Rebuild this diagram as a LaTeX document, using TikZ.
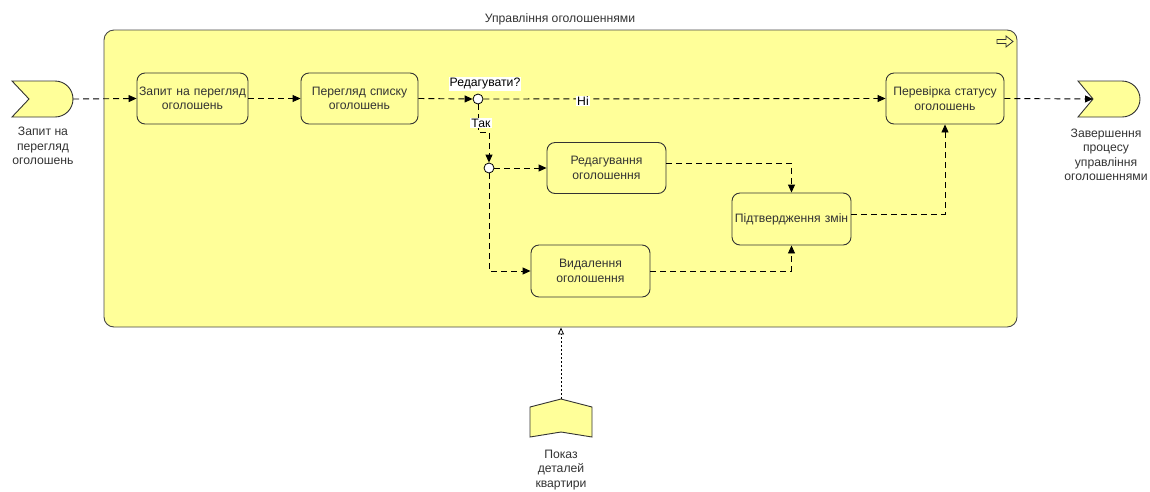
\documentclass[tikz,border=0pt]{standalone}
\usepackage{fontspec}
\setmainfont{Liberation Sans}
\usetikzlibrary{arrows.meta,calc}
\definecolor{lane}{HTML}{FFFF99}
\definecolor{edge}{HTML}{333333}
\begin{document}
\begin{tikzpicture}[x=1pt,y=-1pt,
  font=\fontsize{12.2}{14.5}\selectfont,
  task/.style={draw=edge,line width=0.9pt,fill=lane,rounded corners=8pt,
    align=center,inner sep=2pt,text width=#1-8pt,text=edge},
  task/.default=115pt,
  junction/.style={circle,draw=black,fill=white,line width=0.8pt,minimum size=10pt,inner sep=0pt},
  flow/.style={draw=black,line width=0.9pt,dash pattern=on 6pt off 4pt,
    -{Triangle[length=8pt,width=7pt]}},
  influence/.style={draw=black,line width=0.8pt,dash pattern=on 2pt off 2pt,
    -{Triangle[open,length=7pt,width=6pt]}},
  tag/.style={fill=white,inner sep=1pt},
  caption/.style={align=center,text=edge,inner sep=0pt}]

\useasboundingbox (0,0) rectangle (1150,491);

% process container
\node[draw=edge!90,line width=0.9pt,fill=lane,rounded corners=10pt,
  minimum width=913pt,minimum height=297pt,inner sep=0pt] (proc) at (560.5,178.5) {};
\node[text=edge] (proctitle) at (560,19) {Управління оголошеннями};
% process icon
\draw[edge,line width=0.8pt,line join=miter]
  (997,39.5) -- (1006,39.5) -- (1006,36) -- (1013,41.5) -- (1006,47) -- (1006,43.5) -- (997,43.5) -- cycle;

% start event
\node[minimum width=61pt,minimum height=36pt,inner sep=0pt] (start) at (42.5,99) {};
\draw[edge,line width=0.9pt,fill=lane]
  (12,81) -- (55,81) .. controls (65,81) and (73,89) .. (73,99)
  .. controls (73,109) and (65,117) .. (55,117) -- (12,117) -- (29,99) -- cycle;
\node[caption] (startlbl) at (43,146) {Запит на\\перегляд\\оголошень};

% end event
\coordinate (endnotch) at (1093,99);
\draw[edge,line width=0.9pt,fill=lane]
  (1078,81) -- (1122,81) .. controls (1132,81) and (1140,89) .. (1140,99)
  .. controls (1140,109) and (1132,117) .. (1122,117) -- (1078,117) -- (1093,99) -- cycle;
\node[caption] (endlbl) at (1106,155) {Завершення\\процесу\\управління\\оголошеннями};

% tasks
\node[task=115pt,minimum height=51pt] (t1) at (192.5,98.5) {Запит на перегляд\\оголошень};
\node[task=121pt,minimum height=51pt] (t2) at (359.5,98.5) {Перегляд списку\\оголошень};
\node[task=122pt,minimum height=51pt] (check) at (945,98.5) {Перевірка статусу\\оголошень};
\node[task=123pt,minimum height=51pt] (edit) at (606.5,168) {Редагування\\оголошення};
\node[task=123pt,minimum height=52pt] (del) at (590.5,271) {Видалення\\оголошення};
\node[task=123pt,minimum height=52pt] (conf) at (791.5,219) {Підтвердження змін};

% junctions
\node[junction] (j1) at (478,99) {};
\node[junction] (j2) at (489,168) {};

% business object / trigger below
\node[minimum width=62pt,minimum height=38pt,inner sep=0pt] (detail) at (561,418) {};
\draw[edge,line width=0.9pt,fill=lane]
  (530,407) -- (561,399) -- (592,407) -- (592,437) -- (561,432) -- (530,437) -- cycle;
\coordinate (detailtop) at (561,399);
\node[caption] (detaillbl) at (561,470) {Показ\\деталей\\квартири};

% flows
\draw[flow] (start.east) -- (t1.west);
\draw[flow] (t1.east) -- (t2.west);
\draw[flow] (t2.east) -- (j1.west);
\draw[flow] (j1.east) -- (check.west);
\draw[flow] (check.east) -- (endnotch);
\draw[flow] (j1.south) -- ++(0,28) -| (j2.north);
\draw[flow] (j2.east) -- (edit.west);
\draw[flow] (j2.south) |- (del.west);
\draw[flow] ($(edit.east)+(0,-5)$) -| (conf.north);
\draw[flow] (del.east) -| (conf.south);
\draw[flow] ($(conf.east)+(0,-5)$) -| (check.south);
\draw[influence] (detailtop) -- (proc.south -| detailtop);

% flow labels
\node[tag] (qlbl) at (485,84) {Редагувати?};
\node[tag] (nolbl) at (583,101) {Ні};
\node[tag] (yeslbl) at (481,123) {Так};
\end{tikzpicture}
\end{document}
